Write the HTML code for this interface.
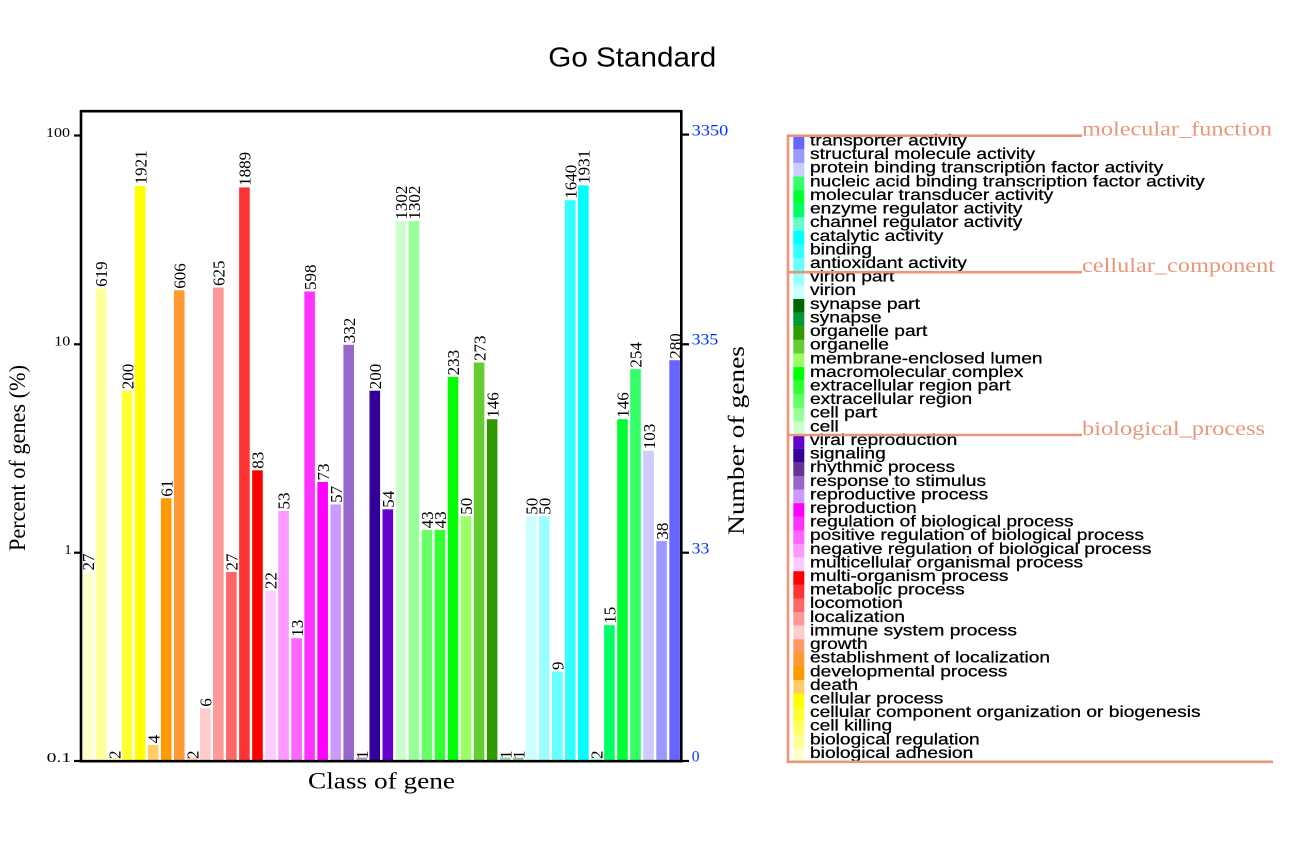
<!DOCTYPE html>
<html>
<head>
<meta charset="utf-8">
<style>
html,body{margin:0;padding:0;background:#fff;}
svg{display:block;}
.lbl{font-family:"Liberation Serif",serif;font-size:17px;fill:#000;}
.lg{font-family:"Liberation Sans",sans-serif;font-size:15.5px;fill:#000;stroke:#000;stroke-width:0.25px;}
.cat{font-family:"Liberation Serif",serif;font-size:20.5px;fill:#E9967A;}
.tk{font-family:"Liberation Serif",serif;font-size:14px;fill:#000;}
.rt{font-family:"Liberation Serif",serif;font-size:15.5px;fill:#0033ff;}
.ax{font-family:"Liberation Serif",serif;font-size:23px;fill:#000;}
</style>
</head>
<body>
<svg width="1293" height="843" viewBox="0 0 1293 843" xmlns="http://www.w3.org/2000/svg">
<rect x="0" y="0" width="1293" height="843" fill="#fff"/>

<!-- Title -->
<text x="548.3" y="66.7" font-family="Liberation Sans, sans-serif" font-size="28" textLength="168" lengthAdjust="spacingAndGlyphs">Go Standard</text>

<!-- Bars -->
<g>
<rect x="82.70" y="572.0" width="10.6" height="188.0" fill="#FFFFCC"/>
<rect x="95.74" y="288.4" width="10.6" height="471.6" fill="#FFFF99"/>
<rect x="108.77" y="757.5" width="10.6" height="2.5" fill="#FFFF66" opacity="0.5"/>
<rect x="121.81" y="390.7" width="10.6" height="369.3" fill="#FFFF33"/>
<rect x="134.84" y="185.9" width="10.6" height="574.1" fill="#FFFF00"/>
<rect x="147.88" y="744.9" width="10.6" height="15.1" fill="#FFCC66"/>
<rect x="160.92" y="498.2" width="10.6" height="261.8" fill="#FF9900"/>
<rect x="173.95" y="290.3" width="10.6" height="469.7" fill="#FF9933"/>
<rect x="186.99" y="757.5" width="10.6" height="2.5" fill="#FF9966" opacity="0.5"/>
<rect x="200.02" y="708.2" width="10.6" height="51.8" fill="#FFCCCC"/>
<rect x="213.06" y="287.5" width="10.6" height="472.5" fill="#FF9999"/>
<rect x="226.10" y="572.0" width="10.6" height="188.0" fill="#FF6666"/>
<rect x="239.13" y="187.4" width="10.6" height="572.6" fill="#FF3333"/>
<rect x="252.17" y="470.3" width="10.6" height="289.7" fill="#FF0000"/>
<rect x="265.20" y="590.6" width="10.6" height="169.4" fill="#FFCCFF"/>
<rect x="278.24" y="511.0" width="10.6" height="249.0" fill="#FF99FF"/>
<rect x="291.28" y="638.2" width="10.6" height="121.8" fill="#FF66FF"/>
<rect x="304.31" y="291.5" width="10.6" height="468.5" fill="#FF33FF"/>
<rect x="317.35" y="482.0" width="10.6" height="278.0" fill="#FF00FF"/>
<rect x="330.38" y="504.4" width="10.6" height="255.6" fill="#CC99FF"/>
<rect x="343.42" y="344.8" width="10.6" height="415.2" fill="#9966CC"/>
<rect x="356.46" y="757.5" width="10.6" height="2.5" fill="#663399" opacity="0.5"/>
<rect x="369.49" y="390.7" width="10.6" height="369.3" fill="#330099"/>
<rect x="382.53" y="509.3" width="10.6" height="250.7" fill="#6600CC"/>
<rect x="395.56" y="221.1" width="10.6" height="538.9" fill="#CCFFCC"/>
<rect x="408.60" y="221.1" width="10.6" height="538.9" fill="#99FF99"/>
<rect x="421.64" y="529.9" width="10.6" height="230.1" fill="#66FF66"/>
<rect x="434.67" y="529.9" width="10.6" height="230.1" fill="#33FF33"/>
<rect x="447.71" y="376.9" width="10.6" height="383.1" fill="#00FF00"/>
<rect x="460.74" y="516.2" width="10.6" height="243.8" fill="#99FF66"/>
<rect x="473.78" y="362.5" width="10.6" height="397.5" fill="#66CC33"/>
<rect x="486.82" y="419.2" width="10.6" height="340.8" fill="#339900"/>
<rect x="499.85" y="757.5" width="10.6" height="2.5" fill="#009933" opacity="0.4"/>
<rect x="512.89" y="757.5" width="10.6" height="2.5" fill="#006600" opacity="0.4"/>
<rect x="525.92" y="516.2" width="10.6" height="243.8" fill="#CCFFFF"/>
<rect x="538.96" y="516.2" width="10.6" height="243.8" fill="#99FFFF"/>
<rect x="552.00" y="671.5" width="10.6" height="88.5" fill="#66FFFF"/>
<rect x="565.03" y="200.2" width="10.6" height="559.8" fill="#33FFFF"/>
<rect x="578.07" y="185.4" width="10.6" height="574.6" fill="#00FFFF"/>
<rect x="591.10" y="757.5" width="10.6" height="2.5" fill="#66FFCC" opacity="0.5"/>
<rect x="604.14" y="625.2" width="10.6" height="134.8" fill="#00FF66"/>
<rect x="617.18" y="419.2" width="10.6" height="340.8" fill="#00FF33"/>
<rect x="630.21" y="369.1" width="10.6" height="390.9" fill="#33FF66"/>
<rect x="643.25" y="450.8" width="10.6" height="309.2" fill="#CCCCFF"/>
<rect x="656.28" y="541.1" width="10.6" height="218.9" fill="#9999FF"/>
<rect x="669.32" y="360.2" width="10.6" height="399.8" fill="#6666FF"/>
</g>

<!-- Bar labels -->
<g class="lbl">
<text transform="translate(94.2,570.5) rotate(-90)">27</text>
<text transform="translate(107.24,286.9) rotate(-90)">619</text>
<text transform="translate(120.27,759) rotate(-90)">2</text>
<text transform="translate(133.31,389.2) rotate(-90)">200</text>
<text transform="translate(146.34,184.4) rotate(-90)">1921</text>
<text transform="translate(159.38,743.4) rotate(-90)">4</text>
<text transform="translate(172.42,496.7) rotate(-90)">61</text>
<text transform="translate(185.45,288.8) rotate(-90)">606</text>
<text transform="translate(198.49,759) rotate(-90)">2</text>
<text transform="translate(211.52,706.7) rotate(-90)">6</text>
<text transform="translate(224.56,286.0) rotate(-90)">625</text>
<text transform="translate(237.60,570.5) rotate(-90)">27</text>
<text transform="translate(250.63,185.9) rotate(-90)">1889</text>
<text transform="translate(263.67,468.8) rotate(-90)">83</text>
<text transform="translate(276.70,589.1) rotate(-90)">22</text>
<text transform="translate(289.74,509.5) rotate(-90)">53</text>
<text transform="translate(302.78,636.7) rotate(-90)">13</text>
<text transform="translate(315.81,290.0) rotate(-90)">598</text>
<text transform="translate(328.85,480.5) rotate(-90)">73</text>
<text transform="translate(341.88,502.9) rotate(-90)">57</text>
<text transform="translate(354.92,343.3) rotate(-90)">332</text>
<text transform="translate(367.96,759) rotate(-90)">1</text>
<text transform="translate(380.99,389.2) rotate(-90)">200</text>
<text transform="translate(394.03,507.8) rotate(-90)">54</text>
<text transform="translate(407.06,219.6) rotate(-90)">1302</text>
<text transform="translate(420.10,219.6) rotate(-90)">1302</text>
<text transform="translate(433.14,528.4) rotate(-90)">43</text>
<text transform="translate(446.17,528.4) rotate(-90)">43</text>
<text transform="translate(459.21,375.4) rotate(-90)">233</text>
<text transform="translate(472.24,514.7) rotate(-90)">50</text>
<text transform="translate(485.28,361.0) rotate(-90)">273</text>
<text transform="translate(498.32,417.7) rotate(-90)">146</text>
<text transform="translate(511.35,759) rotate(-90)">1</text>
<text transform="translate(524.39,759) rotate(-90)">1</text>
<text transform="translate(537.42,514.7) rotate(-90)">50</text>
<text transform="translate(550.46,514.7) rotate(-90)">50</text>
<text transform="translate(563.50,670.0) rotate(-90)">9</text>
<text transform="translate(576.53,198.7) rotate(-90)">1640</text>
<text transform="translate(589.57,183.9) rotate(-90)">1931</text>
<text transform="translate(602.60,759) rotate(-90)">2</text>
<text transform="translate(615.64,623.7) rotate(-90)">15</text>
<text transform="translate(628.68,417.7) rotate(-90)">146</text>
<text transform="translate(641.71,367.6) rotate(-90)">254</text>
<text transform="translate(654.75,449.3) rotate(-90)">103</text>
<text transform="translate(667.78,539.6) rotate(-90)">38</text>
<text transform="translate(680.82,358.7) rotate(-90)">280</text>
</g>

<!-- Axes frame -->
<g stroke="#000" stroke-width="2.6" fill="none">
<line x1="81" y1="111.2" x2="681.3" y2="111.2"/>
<line x1="81" y1="110" x2="81" y2="762.5"/>
<line x1="681.3" y1="110" x2="681.3" y2="762.5"/>
<line x1="79.7" y1="761.2" x2="682.6" y2="761.2"/>
</g>
<g stroke="#000" stroke-width="2.2">
<line x1="74" y1="135.5" x2="81" y2="135.5"/>
<line x1="74" y1="344.3" x2="81" y2="344.3"/>
<line x1="74" y1="552.7" x2="81" y2="552.7"/>
<line x1="74" y1="761" x2="81" y2="761"/>
<line x1="681" y1="134.6" x2="689" y2="134.6"/>
<line x1="681" y1="344.3" x2="689" y2="344.3"/>
<line x1="681" y1="552.7" x2="689" y2="552.7"/>
<line x1="681" y1="761" x2="689" y2="761"/>
</g>

<!-- Left tick labels -->
<g class="tk">
<text x="46" y="136.9" textLength="24" lengthAdjust="spacingAndGlyphs">100</text>
<text x="54.3" y="345.7" textLength="16" lengthAdjust="spacingAndGlyphs">10</text>
<text x="64.5" y="553.8">1</text>
<text x="46.7" y="762" textLength="24.5" lengthAdjust="spacingAndGlyphs">0.1</text>
</g>

<!-- Right tick labels -->
<g class="rt">
<text x="691.7" y="135.7" textLength="36.6" lengthAdjust="spacingAndGlyphs">3350</text>
<text x="691.7" y="344.3" textLength="26.6" lengthAdjust="spacingAndGlyphs">335</text>
<text x="691.7" y="553.3" textLength="17.6" lengthAdjust="spacingAndGlyphs">33</text>
<text x="691.7" y="761.7">0</text>
</g>

<!-- Axis titles -->
<text class="ax" transform="translate(25,551) rotate(-90)" textLength="186" lengthAdjust="spacingAndGlyphs">Percent of genes (%)</text>
<text class="ax" font-size="24" transform="translate(744,535) rotate(-90)" textLength="189" lengthAdjust="spacingAndGlyphs">Number of genes</text>
<text class="ax" x="308" y="788.3" font-size="25" textLength="147" lengthAdjust="spacingAndGlyphs">Class of gene</text>

<!-- Legend swatches -->
<g>
<rect x="793.3" y="135.70" width="11" height="13.7" fill="#6666FF"/>
<rect x="793.3" y="149.31" width="11" height="13.7" fill="#9999FF"/>
<rect x="793.3" y="162.92" width="11" height="13.7" fill="#CCCCFF"/>
<rect x="793.3" y="176.53" width="11" height="13.7" fill="#33FF66"/>
<rect x="793.3" y="190.14" width="11" height="13.7" fill="#00FF33"/>
<rect x="793.3" y="203.75" width="11" height="13.7" fill="#00FF66"/>
<rect x="793.3" y="217.36" width="11" height="13.7" fill="#66FFCC"/>
<rect x="793.3" y="230.97" width="11" height="13.7" fill="#00FFFF"/>
<rect x="793.3" y="244.58" width="11" height="13.7" fill="#33FFFF"/>
<rect x="793.3" y="258.19" width="11" height="13.7" fill="#66FFFF"/>
<rect x="793.3" y="271.80" width="11" height="13.7" fill="#99FFFF"/>
<rect x="793.3" y="285.41" width="11" height="13.7" fill="#CCFFFF"/>
<rect x="793.3" y="299.02" width="11" height="13.7" fill="#006600"/>
<rect x="793.3" y="312.63" width="11" height="13.7" fill="#009933"/>
<rect x="793.3" y="326.24" width="11" height="13.7" fill="#339900"/>
<rect x="793.3" y="339.85" width="11" height="13.7" fill="#66CC33"/>
<rect x="793.3" y="353.46" width="11" height="13.7" fill="#99FF66"/>
<rect x="793.3" y="367.07" width="11" height="13.7" fill="#00FF00"/>
<rect x="793.3" y="380.68" width="11" height="13.7" fill="#33FF33"/>
<rect x="793.3" y="394.29" width="11" height="13.7" fill="#66FF66"/>
<rect x="793.3" y="407.90" width="11" height="13.7" fill="#99FF99"/>
<rect x="793.3" y="421.51" width="11" height="13.7" fill="#CCFFCC"/>
<rect x="793.3" y="435.12" width="11" height="13.7" fill="#6600CC"/>
<rect x="793.3" y="448.73" width="11" height="13.7" fill="#330099"/>
<rect x="793.3" y="462.34" width="11" height="13.7" fill="#663399"/>
<rect x="793.3" y="475.95" width="11" height="13.7" fill="#9966CC"/>
<rect x="793.3" y="489.56" width="11" height="13.7" fill="#CC99FF"/>
<rect x="793.3" y="503.17" width="11" height="13.7" fill="#FF00FF"/>
<rect x="793.3" y="516.78" width="11" height="13.7" fill="#FF33FF"/>
<rect x="793.3" y="530.39" width="11" height="13.7" fill="#FF66FF"/>
<rect x="793.3" y="544.00" width="11" height="13.7" fill="#FF99FF"/>
<rect x="793.3" y="557.61" width="11" height="13.7" fill="#FFCCFF"/>
<rect x="793.3" y="571.22" width="11" height="13.7" fill="#FF0000"/>
<rect x="793.3" y="584.83" width="11" height="13.7" fill="#FF3333"/>
<rect x="793.3" y="598.44" width="11" height="13.7" fill="#FF6666"/>
<rect x="793.3" y="612.05" width="11" height="13.7" fill="#FF9999"/>
<rect x="793.3" y="625.66" width="11" height="13.7" fill="#FFCCCC"/>
<rect x="793.3" y="639.27" width="11" height="13.7" fill="#FF9966"/>
<rect x="793.3" y="652.88" width="11" height="13.7" fill="#FF9933"/>
<rect x="793.3" y="666.49" width="11" height="13.7" fill="#FF9900"/>
<rect x="793.3" y="680.10" width="11" height="13.7" fill="#FFCC66"/>
<rect x="793.3" y="693.71" width="11" height="13.7" fill="#FFFF00"/>
<rect x="793.3" y="707.32" width="11" height="13.7" fill="#FFFF33"/>
<rect x="793.3" y="720.93" width="11" height="13.7" fill="#FFFF66"/>
<rect x="793.3" y="734.54" width="11" height="13.7" fill="#FFFF99"/>
<rect x="793.3" y="748.15" width="11" height="13.6" fill="#FFFFCC"/>
</g>

<!-- Legend text -->
<g class="lg">
<text transform="translate(810,145.50) scale(1.24,1)">transporter activity</text>
<text transform="translate(810,159.11) scale(1.24,1)">structural molecule activity</text>
<text transform="translate(810,172.72) scale(1.24,1)">protein binding transcription factor activity</text>
<text transform="translate(810,186.33) scale(1.24,1)">nucleic acid binding transcription factor activity</text>
<text transform="translate(810,199.94) scale(1.24,1)">molecular transducer activity</text>
<text transform="translate(810,213.55) scale(1.24,1)">enzyme regulator activity</text>
<text transform="translate(810,227.16) scale(1.24,1)">channel regulator activity</text>
<text transform="translate(810,240.77) scale(1.24,1)">catalytic activity</text>
<text transform="translate(810,254.38) scale(1.24,1)">binding</text>
<text transform="translate(810,267.99) scale(1.24,1)">antioxidant activity</text>
<text transform="translate(810,281.60) scale(1.24,1)">virion part</text>
<text transform="translate(810,295.21) scale(1.24,1)">virion</text>
<text transform="translate(810,308.82) scale(1.24,1)">synapse part</text>
<text transform="translate(810,322.43) scale(1.24,1)">synapse</text>
<text transform="translate(810,336.04) scale(1.24,1)">organelle part</text>
<text transform="translate(810,349.65) scale(1.24,1)">organelle</text>
<text transform="translate(810,363.26) scale(1.24,1)">membrane-enclosed lumen</text>
<text transform="translate(810,376.87) scale(1.24,1)">macromolecular complex</text>
<text transform="translate(810,390.48) scale(1.24,1)">extracellular region part</text>
<text transform="translate(810,404.09) scale(1.24,1)">extracellular region</text>
<text transform="translate(810,417.70) scale(1.24,1)">cell part</text>
<text transform="translate(810,431.31) scale(1.24,1)">cell</text>
<text transform="translate(810,444.92) scale(1.24,1)">viral reproduction</text>
<text transform="translate(810,458.53) scale(1.24,1)">signaling</text>
<text transform="translate(810,472.14) scale(1.24,1)">rhythmic process</text>
<text transform="translate(810,485.75) scale(1.24,1)">response to stimulus</text>
<text transform="translate(810,499.36) scale(1.24,1)">reproductive process</text>
<text transform="translate(810,512.97) scale(1.24,1)">reproduction</text>
<text transform="translate(810,526.58) scale(1.24,1)">regulation of biological process</text>
<text transform="translate(810,540.19) scale(1.24,1)">positive regulation of biological process</text>
<text transform="translate(810,553.80) scale(1.24,1)">negative regulation of biological process</text>
<text transform="translate(810,567.41) scale(1.24,1)">multicellular organismal process</text>
<text transform="translate(810,581.02) scale(1.24,1)">multi-organism process</text>
<text transform="translate(810,594.63) scale(1.24,1)">metabolic process</text>
<text transform="translate(810,608.24) scale(1.24,1)">locomotion</text>
<text transform="translate(810,621.85) scale(1.24,1)">localization</text>
<text transform="translate(810,635.46) scale(1.24,1)">immune system process</text>
<text transform="translate(810,649.07) scale(1.24,1)">growth</text>
<text transform="translate(810,662.68) scale(1.24,1)">establishment of localization</text>
<text transform="translate(810,676.29) scale(1.24,1)">developmental process</text>
<text transform="translate(810,689.90) scale(1.24,1)">death</text>
<text transform="translate(810,703.51) scale(1.24,1)">cellular process</text>
<text transform="translate(810,717.12) scale(1.24,1)">cellular component organization or biogenesis</text>
<text transform="translate(810,730.73) scale(1.24,1)">cell killing</text>
<text transform="translate(810,744.34) scale(1.24,1)">biological regulation</text>
<text transform="translate(810,757.95) scale(1.24,1)">biological adhesion</text>
</g>

<!-- Legend brackets -->
<g stroke="#E9967A" stroke-width="2.6" fill="none">
<line x1="788" y1="134.5" x2="788" y2="763"/>
<line x1="786.7" y1="135.7" x2="1082" y2="135.7"/>
<line x1="786.7" y1="272.2" x2="1082" y2="272.2"/>
<line x1="786.7" y1="435" x2="1082" y2="435"/>
<line x1="786.7" y1="761.8" x2="1273" y2="761.8"/>
</g>
<g class="cat">
<text x="1082" y="135.3" textLength="190" lengthAdjust="spacingAndGlyphs">molecular_function</text>
<text x="1082" y="271.8" textLength="193" lengthAdjust="spacingAndGlyphs">cellular_component</text>
<text x="1082" y="434.8" textLength="183" lengthAdjust="spacingAndGlyphs">biological_process</text>
</g>
</svg>
</body>
</html>
